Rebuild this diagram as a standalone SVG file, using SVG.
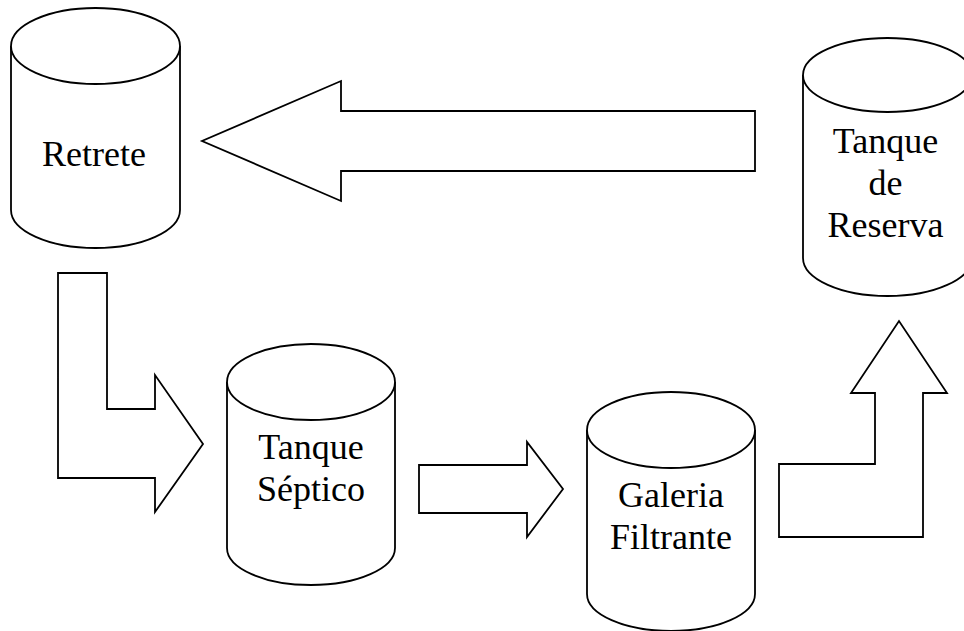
<svg xmlns="http://www.w3.org/2000/svg" width="964" height="631" viewBox="0 0 964 631">
<style>
.s{fill:#fff;stroke:#000;stroke-width:1.8;stroke-linejoin:miter}
.t{font-family:"Liberation Serif","Times New Roman",serif;font-size:36px;fill:#000;text-anchor:middle}
</style>
<rect width="964" height="631" fill="#fff"/>
<g id="connectors">
<path class="s" d="M755,111 L341,111 L341,81 L202,141 L341,201 L341,171 L755,171 Z"/>
<path class="s" d="M58,273 L107,273 L107,409 L155,409 L155,375 L203,444 L155,512 L155,478 L58,478 Z"/>
<path class="s" d="M419,465 L527,465 L527,442 L563,489 L527,537 L527,513 L419,513 Z"/>
<path class="s" d="M779,537 L779,464 L875,464 L875,393 L851,393 L899,321 L947,393 L923,393 L923,537 Z"/>
</g>
<g id="retrete">
<path class="s" d="M11,46 L11,210 A84.5,38 0 0 0 180,210 L180,46"/>
<ellipse class="s" cx="95.5" cy="46" rx="84.5" ry="38"/>
<text class="t" x="94" y="166">Retrete</text>
</g>
<g id="tanque-septico">
<path class="s" d="M227,382 L227,548 A84,37 0 0 0 395,548 L395,382"/>
<ellipse class="s" cx="311" cy="382" rx="84" ry="38"/>
<text class="t" x="311" y="459">Tanque</text>
<text class="t" x="311" y="501">Séptico</text>
</g>
<g id="galeria-filtrante">
<path class="s" d="M587,430 L587,594 A84,37 0 0 0 755,594 L755,430"/>
<ellipse class="s" cx="671" cy="430" rx="84" ry="38"/>
<text class="t" x="671" y="507">Galeria</text>
<text class="t" x="671" y="549">Filtrante</text>
</g>
<g id="tanque-reserva">
<path class="s" d="M803,75 L803,258 A84.5,38 0 0 0 972,258 L972,75"/>
<ellipse class="s" cx="887.5" cy="75" rx="84.5" ry="37"/>
<text class="t" x="885.5" y="153">Tanque</text>
<text class="t" x="885.5" y="195">de</text>
<text class="t" x="885.5" y="237">Reserva</text>
</g>
</svg>
